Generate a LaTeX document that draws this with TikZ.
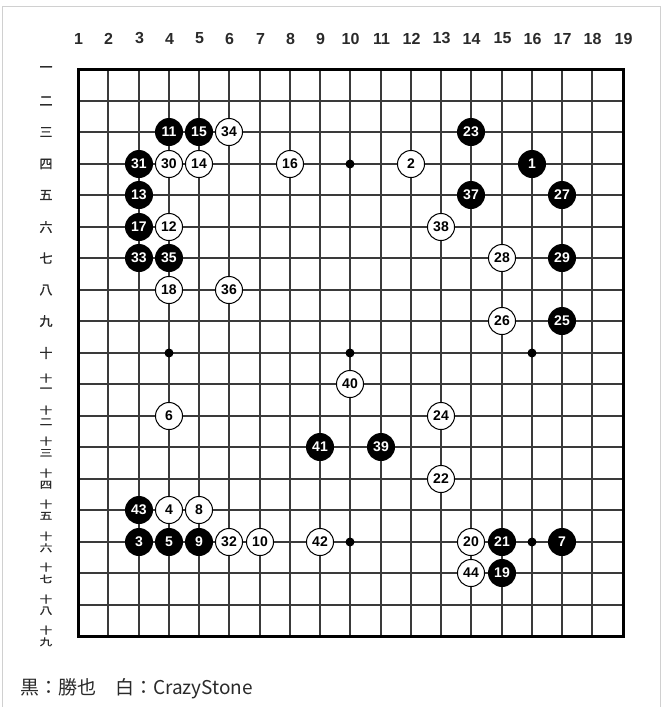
\documentclass[tikz,border=0pt]{standalone}
\usepackage{fontspec}
\usepackage{graphicx}
\setmainfont{Liberation Sans}
\newfontfamily\cjk{Noto Sans CJK JP}
\newfontfamily\cjkbold[FakeBold=1.2]{Noto Sans CJK JP}
\definecolor{gridc}{HTML}{3A3A3A}
\definecolor{framec}{HTML}{D0D0D0}
\definecolor{labc}{HTML}{2A2A2A}
\tikzset{
  gridline/.style={draw=gridc, line width=1.6pt},
  border/.style={draw=black, line width=3pt},
  bstone/.style={circle, fill=black, minimum size=28pt, inner sep=0pt, text=white, font=\bfseries\fontsize{14}{14}\selectfont},
  wstone/.style={circle, fill=white, draw=black, line width=1pt, minimum size=27pt, inner sep=0pt, text=black, font=\bfseries\fontsize{14}{14}\selectfont},
  star/.style={circle, fill=black, minimum size=9pt, inner sep=0pt},
  collab/.style={text=labc, font=\bfseries\fontsize{16}{16}\selectfont, inner sep=0pt},
  rowlab/.style={text=labc, font=\cjkbold\fontsize{13}{13}\selectfont, inner sep=0pt},
  rowlabs/.style={text=labc, font=\cjkbold\fontsize{12.5}{12.5}\selectfont, inner sep=0pt},
  caption/.style={text=labc, font=\cjk\fontsize{19}{19}\selectfont, inner sep=0pt, anchor=base west}
}
\newcommand{\gx}[1]{round(78+(#1-1)*30.25)}
\newcommand{\gy}[1]{round(69+(#1-1)*31.5)}
\begin{document}
\begin{tikzpicture}[x=1pt,y=-1pt]
\useasboundingbox (0,0) rectangle (662,707);
% outer frame
\draw[framec, line width=1pt] (2.5,712) -- (2.5,6.5) -- (660.5,6.5) -- (660.5,712);
% grid
\foreach \i in {2,...,18}{
  \draw[gridline] ({\gx{\i}},69) -- ({\gx{\i}},636);
  \draw[gridline] (78,{\gy{\i}}) -- (623,{\gy{\i}});
}
\draw[border] (78,69) rectangle (623,636);
% column labels
\foreach \i in {1,...,19}{
  \node[collab, name=c\i] at ({\gx{\i}+0.5},38.5) {\i};
}
% row labels
\foreach \r/\t in {1/一,2/二,3/三,4/四,5/五,6/六,7/七,8/八,9/九,10/十}{
  \node[rowlab, name=r\r] at (46,{\gy{\r}}) {\t};
}
\foreach \r/\t in {11/一,12/二,13/三,14/四,15/五,16/六,17/七,18/八,19/九}{
  \node[rowlabs, name=ra\r] at (46,{\gy{\r}-5.8}) {\scalebox{1}[0.78]{十}};
  \node[rowlabs, name=rb\r] at (46,{\gy{\r}+5.8}) {\scalebox{1}[0.78]{\t}};
}
% star points
\foreach \c/\r in {4/4,10/4,16/4,4/10,10/10,16/10,4/16,10/16,16/16}{
  \node[star, name=s\c-\r] at ({\gx{\c}},{\gy{\r}}) {};
}
% black stones
\foreach \c/\r/\n in {16/4/1,3/16/3,4/16/5,17/16/7,5/16/9,4/3/11,3/5/13,5/3/15,3/6/17,15/17/19,15/16/21,14/3/23,17/9/25,17/5/27,17/7/29,3/4/31,3/7/33,4/7/35,14/5/37,11/13/39,9/13/41,3/15/43}{
  \node[bstone, name=m\n] at ({\gx{\c}},{\gy{\r}}) {\n};
}
% white stones
\foreach \c/\r/\n in {12/4/2,4/15/4,4/12/6,5/15/8,7/16/10,4/6/12,5/4/14,8/4/16,4/8/18,14/16/20,13/14/22,13/12/24,15/9/26,15/7/28,4/4/30,6/16/32,6/3/34,6/8/36,13/6/38,10/11/40,9/16/42,14/17/44}{
  \node[wstone, name=m\n] at ({\gx{\c}},{\gy{\r}}) {\n};
}
% caption
\node[caption, name=cap] at (20,694) {黒：勝也　白：CrazyStone};
\end{tikzpicture}
\end{document}
